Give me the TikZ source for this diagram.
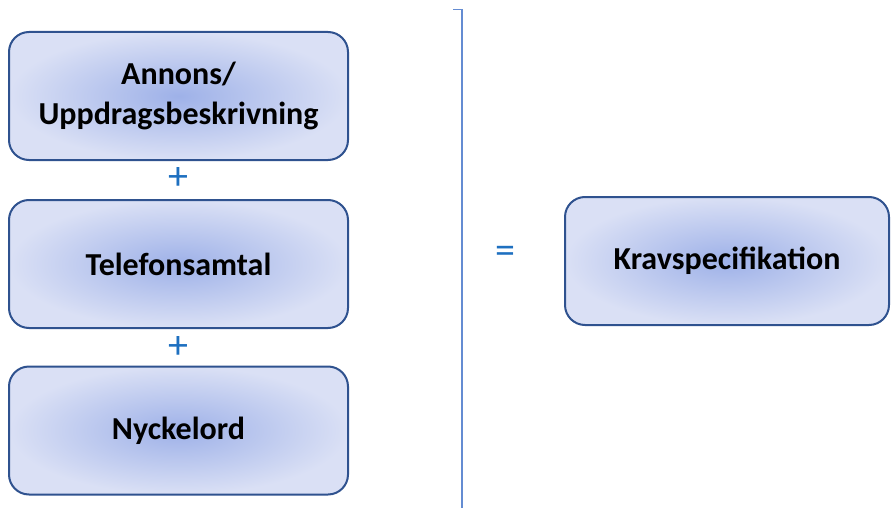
\documentclass[tikz,border=0pt]{standalone}
\usepackage{fontspec}
\setmainfont{Carlito}
\usepackage{tikz}
\usetikzlibrary{positioning}
\definecolor{boxedge}{RGB}{47,82,143}
\definecolor{boxinner}{RGB}{158,177,232}
\definecolor{boxouter}{RGB}{218,224,245}
\definecolor{signblue}{RGB}{30,112,192}
\definecolor{splitline}{RGB}{100,140,210}

\tikzset{
  part/.style={draw=boxedge, line width=2pt, rounded corners=20pt,
    shading=radial, inner color=boxinner, outer color=boxouter,
    minimum width=339pt, minimum height=128pt, align=center,
    font=\fontsize{32}{40}\selectfont\bfseries},
  sign/.style={text=signblue, font=\fontsize{40}{40}\selectfont}
}

\begin{document}
\begin{tikzpicture}[x=1pt,y=-1pt]
\useasboundingbox (0,0) rectangle (891,508);
% input boxes
\node[part] (annons) at (178.5,96) {Annons/\\Uppdragsbeskrivning};
\node[part] (samtal) at (178.5,264) {Telefonsamtal};
\node[part] (nyckel) at (178.5,430.5) {Nyckelord};
\node[sign] (plusA) at (178,179) {+};
\node[sign] (plusB) at (178,348) {+};
% divider
\coordinate (topL) at (453,9.5);
\coordinate (topR) at (462,9.5);
\coordinate (bot) at (462,508);
\draw[splitline, line width=1.8pt] (topL) -- (topR) -- (bot);
% result
\node[sign] (equals) at (505,255) {=};
\node[part, minimum width=324pt] (krav) at (727,261) {Kravspecifikation};
\end{tikzpicture}
\end{document}
